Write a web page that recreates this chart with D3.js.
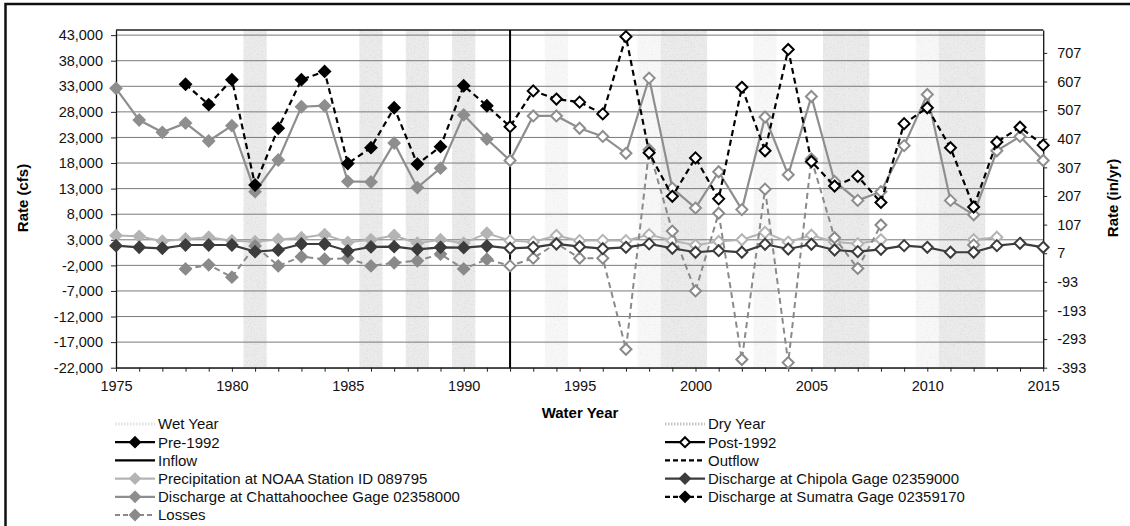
<!DOCTYPE html>
<html>
<head>
<meta charset="utf-8">
<script src="https://cdn.jsdelivr.net/npm/d3@7"></script>
<style>
  html, body { margin: 0; padding: 0; background: #fff; }
  svg { display: block; font-family: "Liberation Sans", Arial, sans-serif; }
</style>
</head>
<body>
<svg id="chart" width="1130" height="526"></svg>
<script>
// ---- data -------------------------------------------------------------
const years = d3.range(1975, 2016);

// Discharge at Chattahoochee Gage 02358000 (cfs)
const chattahoochee = [32600, 26400, 24000, 25800, 22300, 25300, 12400, 18600, 29000, 29200,
  14400, 14300, 21900, 13200, 17000, 27400, 22700, 18500, 27200, 27200,
  24800, 23200, 19900, 34600, 13100, 9200, 16300, 8900, 27000, 15700,
  31000, 14400, 10700, 12400, 21400, 31400, 10700, 7900, 20400, 23200, 18500];

// Discharge at Sumatra Gage 02359170 (cfs)
const sumatra = [null, null, null, 33400, 29400, 34300, 13700, 24800, 34300, 35900,
  17900, 21000, 28800, 17800, 21200, 33100, 29200, 25100, 32100, 30500,
  29900, 27600, 42700, 20000, 11500, 19000, 11000, 32800, 20400, 40200,
  18300, 13500, 15400, 10300, 25700, 28800, 21000, 9400, 22100, 25000, 21500];

// Discharge at Chipola Gage 02359000 (cfs)
const chipola = [1850, 1530, 1340, 1980, 1980, 1980, 680, 1000, 2180, 2180,
  810, 1600, 1650, 1140, 1530, 1460, 1790, 1340, 1530, 2180,
  1650, 1260, 1530, 2200, 1340, 560, 870, 560, 2120, 1200,
  2120, 1000, 680, 1140, 1850, 1530, 560, 560, 1850, 2310, 1530];

// Precipitation at NOAA Station ID 089795 (in/yr, right axis)
const precipitation = [69, 66, 49, 57, 63, 51, 47, 55, 61, 72,
  45, 54, 69, 42, 54, 42, 77, 51, 46, 69,
  51, 52, 51, 72, 51, 35, 48, 54, 80, 46,
  70, 46, 40, 54, null, null, null, 54, 63, null, null];

// Losses (cfs)
const losses = [null, null, null, -2700, -1900, -4300, 1800, -2100, -300, -800,
  -600, -2100, -1500, -1100, 200, -2700, -800, -2100, -600, 2300,
  -600, -600, -18400, 20600, 4700, -7000, 8200, -20400, 12900, -21000,
  18800, 3400, -2600, 5900, null, null, null, 2000, null, null, null];

const dryYears = [1981, 1986, 1988, 1990, 1999, 2000, 2006, 2007, 2011, 2012];
const wetYears = [1994, 1998, 2003, 2010];
const splitYear = 1992;

const leftTicks = d3.range(-22000, 43001, 5000);
const rightTicks = d3.range(-393, 708, 100);
const yearTicks = d3.range(1975, 2016, 5);

const legendLeft = ["Wet Year", "Pre-1992", "Inflow",
  "Precipitation at NOAA Station ID 089795", "Discharge at Chattahoochee Gage 02358000", "Losses"];
const legendRight = ["Dry Year", "Post-1992", "Outflow",
  "Discharge at Chipola Gage 02359000", "Discharge at Sumatra Gage 02359170"];

// ---- layout -------------------------------------------------------------
const svg = d3.select("#chart");
const plot = { left: 116, right: 1043.2, top: 30, bottom: 367.7 };

const x = d3.scaleLinear().domain([1975, 2015]).range([plot.left, plot.right]);
const yL = d3.scaleLinear().domain([-22000, 44000]).range([plot.bottom, plot.top]);
const yR = d3.scaleLinear().domain([-393, 787]).range([plot.bottom, plot.top]);

const fmt = d => d3.format(",")(d).replace("\u2212", "-");

// stipple textures for the wet / dry year bands
const defs = svg.append("defs");
function stipple(id, slope, offset, tone) {
  const f = defs.append("filter").attr("id", id)
    .attr("x", "0%").attr("y", "0%").attr("width", "100%").attr("height", "100%");
  f.append("feTurbulence").attr("type", "fractalNoise").attr("baseFrequency", 1.3)
    .attr("numOctaves", 1).attr("seed", 5).attr("result", "noise");
  f.append("feColorMatrix").attr("in", "noise").attr("type", "matrix")
    .attr("values", `0 0 0 0 ${tone}  0 0 0 0 ${tone}  0 0 0 0 ${tone}  ${slope} 0 0 0 ${offset}`)
    .attr("result", "dots");
  f.append("feComposite").attr("in", "dots").attr("in2", "SourceGraphic").attr("operator", "in");
}
stipple("dryGrain", 4, -2.1, 0.72);
stipple("wetGrain", 4, -2.35, 0.8);

// outer frame
svg.append("rect").attr("x", 5.5).attr("y", 4).attr("width", 1140).attr("height", 540)
  .attr("fill", "none").attr("stroke", "#111").attr("stroke-width", 2.5);

// bands
const bandG = svg.append("g");
function drawBands(list, base, grain) {
  list.forEach(yr => {
    const x0 = x(yr - 0.5), w = x(yr + 0.5) - x(yr - 0.5);
    bandG.append("rect").attr("x", x0).attr("y", plot.top).attr("width", w)
      .attr("height", plot.bottom - plot.top).attr("fill", base);
    bandG.append("rect").attr("x", x0).attr("y", plot.top).attr("width", w)
      .attr("height", plot.bottom - plot.top).attr("fill", "#000").attr("filter", `url(#${grain})`);
  });
}
drawBands(wetYears, "#f7f7f7", "wetGrain");
drawBands(dryYears, "#ebebeb", "dryGrain");

// gridlines
svg.append("g").selectAll("line").data(leftTicks).join("line")
  .attr("x1", plot.left).attr("x2", plot.right)
  .attr("y1", d => yL(d)).attr("y2", d => yL(d))
  .attr("stroke", "#7a7a7a").attr("stroke-width", 1);
svg.append("line").attr("x1", plot.left).attr("x2", plot.right)
  .attr("y1", plot.top).attr("y2", plot.top).attr("stroke", "#222").attr("stroke-width", 1.5);

// axes
const axisStyle = g => {
  g.selectAll("text").attr("fill", "#111").style("font-size", "14.5px");
  g.selectAll("line").attr("stroke", "#222");
  g.select(".domain").attr("stroke", "#111").attr("stroke-width", 1.3);
};
svg.append("g").attr("transform", `translate(${plot.left},0)`)
  .call(d3.axisLeft(yL).tickValues(leftTicks).tickFormat(fmt).tickSize(5).tickPadding(8).tickSizeOuter(0))
  .call(axisStyle);
svg.append("g").attr("transform", `translate(${plot.right},0)`)
  .call(d3.axisRight(yR).tickValues(rightTicks).tickFormat(d => String(d)).tickSize(4).tickPadding(10).tickSizeOuter(0))
  .call(axisStyle);
svg.append("g").attr("transform", `translate(0,${plot.bottom})`)
  .call(d3.axisBottom(x).tickValues(years).tickFormat(d => yearTicks.includes(d) ? d : "").tickSize(4).tickPadding(9).tickSizeOuter(0))
  .call(axisStyle);

// 1992 divider
svg.append("line").attr("x1", x(splitYear)).attr("x2", x(splitYear))
  .attr("y1", plot.top).attr("y2", plot.bottom).attr("stroke", "#000").attr("stroke-width", 2);

// axis titles
svg.append("text").attr("transform", `translate(28,198) rotate(-90)`).attr("text-anchor", "middle")
  .style("font-weight", "bold").style("font-size", "15px").text("Rate (cfs)");
svg.append("text").attr("transform", `translate(1118,198) rotate(-90)`).attr("text-anchor", "middle")
  .style("font-weight", "bold").style("font-size", "15px").text("Rate (in/yr)");
svg.append("text").attr("x", 580).attr("y", 418).attr("text-anchor", "middle")
  .style("font-weight", "bold").style("font-size", "15px").text("Water Year");

// ---- series ---------------------------------------------------------------
const diamond = r => `M0,${-r}L${r},0L0,${r}L${-r},0Z`;
const series = {
  "Precipitation at NOAA Station ID 089795": { values: precipitation, scale: yR, color: "#b4b4b4", dash: null, width: 2 },
  "Losses": { values: losses, scale: yL, color: "#8a8a8a", dash: "6,4", width: 2 },
  "Discharge at Chipola Gage 02359000": { values: chipola, scale: yL, color: "#3c3c3c", dash: null, width: 2.2 },
  "Discharge at Chattahoochee Gage 02358000": { values: chattahoochee, scale: yL, color: "#8e8e8e", dash: null, width: 2.2 },
  "Discharge at Sumatra Gage 02359170": { values: sumatra, scale: yL, color: "#000", dash: "6,4", width: 2.2 }
};

const linesG = svg.append("g");
Object.entries(series).forEach(([name, s]) => {
  const pts = years.map((yr, i) => ({ yr, v: s.values[i] }));
  const line = d3.line().defined(d => d.v != null).x(d => x(d.yr)).y(d => s.scale(d.v));
  linesG.append("path").attr("d", line(pts)).attr("fill", "none")
    .attr("stroke", s.color).attr("stroke-width", s.width)
    .attr("stroke-dasharray", s.dash);
  linesG.append("g").selectAll("path").data(pts.filter(d => d.v != null)).join("path")
    .attr("transform", d => `translate(${x(d.yr)},${s.scale(d.v)})`)
    .attr("d", diamond(5.5))
    .attr("fill", d => d.yr < splitYear ? s.color : "#fff")
    .attr("stroke", s.color).attr("stroke-width", 2);
});

// ---- legend ---------------------------------------------------------------
const legendStyle = {
  "Wet Year": { kind: "band", color: "#e2e2e2" },
  "Dry Year": { kind: "band", color: "#c4c4c4" },
  "Pre-1992": { kind: "marker", color: "#000", fill: "#000", dash: null },
  "Post-1992": { kind: "marker", color: "#000", fill: "#fff", dash: null },
  "Inflow": { kind: "line", color: "#000", dash: null },
  "Outflow": { kind: "line", color: "#000", dash: "5,3" }
};
function legendColumn(items, x0, textX) {
  items.forEach((name, i) => {
    const yy = 424 + i * 18.2;
    const g = svg.append("g");
    const st = legendStyle[name];
    const s = series[name];
    if (st && st.kind === "band") {
      g.append("line").attr("x1", x0).attr("x2", x0 + 40).attr("y1", yy).attr("y2", yy)
        .attr("stroke", st.color).attr("stroke-width", 3).attr("stroke-dasharray", "1.5,1.5");
    } else {
      const color = st ? st.color : s.color;
      const dash = st ? st.dash : (s.dash ? "5,3" : null);
      g.append("line").attr("x1", x0).attr("x2", x0 + 40).attr("y1", yy).attr("y2", yy)
        .attr("stroke", color).attr("stroke-width", 2.2).attr("stroke-dasharray", dash);
      if (!st || st.kind === "marker") {
        g.append("path").attr("transform", `translate(${x0 + 20},${yy})`).attr("d", diamond(5))
          .attr("fill", st ? st.fill : color).attr("stroke", color).attr("stroke-width", 2);
      }
    }
    g.append("text").attr("x", textX).attr("y", yy + 5.3).style("font-size", "15px")
      .attr("fill", "#111").text(name);
  });
}
legendColumn(legendLeft, 115, 158);
legendColumn(legendRight, 665, 708);
</script>
</body>
</html>
